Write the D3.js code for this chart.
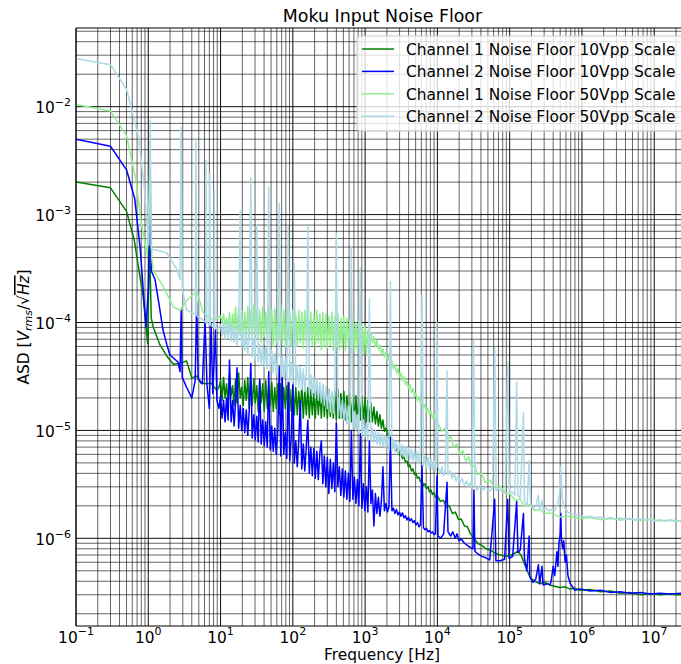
<!DOCTYPE html>
<html>
<head>
<meta charset="utf-8">
<script src="https://cdn.jsdelivr.net/npm/d3@7"></script>
<style>
    body { margin: 0; background: #fff; }
    svg { display: block; font-family: "DejaVu Sans", sans-serif; }
</style>
</head>
<body>
<svg width="681" height="664"></svg>
<script>
// values: frequency in Hz, ASD in V/sqrt(Hz)

// shared frequency grid for the noisy 10 Hz - 10 kHz stretch
var fGrid = [
    10, 10.49, 11.0, 11.54, 12.1, 12.7, 13.3, 14.0, 14.7, 15.4,
    16.1, 16.9, 17.8, 18.7, 19.6, 20.6, 21.6, 22.7, 23.8, 24.9,
    26.2, 27.4, 28.8, 30.2, 31.7, 33.2, 34.8, 36.5, 38.3, 40.2,
    42.2, 44.3, 46.4, 48.7, 51.1, 53.6, 56.2, 59.0, 61.9, 64.9,
    68.1, 71.4, 74.9, 78.6, 82.5, 86.5, 90.7, 95.2, 99.8, 104.7,
    109.9, 115.2, 120.9, 126.8, 133, 139.6, 146.4, 153.6, 161.1, 169,
    177.3, 186, 195.1, 204.7, 214.7, 225.2, 236.3, 247.9, 260, 272.7,
    286.1, 300.1, 314.8, 330.3, 346.5, 363.4, 381.2, 400, 419.6, 440.1,
    461.7, 484.3, 508, 532.9, 559, 586.4, 615.2, 645.3, 677, 710.1,
    745, 781.5, 819.8, 860, 902.1, 946.3, 992.7, 1041, 1092, 1146,
    1202, 1261, 1323, 1388, 1456, 1527, 1602, 1680, 1763, 1849,
    1940, 2035, 2135, 2239, 2349, 2464, 2585, 2712, 2845, 2984,
    3130, 3284, 3445, 3614, 3791, 3977, 4172, 4376, 4590, 4815,
    5051, 5299, 5559, 5831, 6117, 6417, 6731, 7061, 7407, 7770,
    8151, 8551, 8970, 9410, 9871
]

// Channel 1, 10Vpp
var ch1_10_low = [
    [0.1, 2.0e-3], [0.3, 1.77e-3], [0.5, 1.07e-3], [0.64, 5.8e-4], [0.73, 3.3e-4], [0.85, 1.73e-4],
    [0.98, 6.4e-5], [1.04, 5.5e-4], [1.1, 1.1e-4], [1.17, 9.1e-5], [1.45, 6.2e-5], [1.8, 4.9e-5],
    [2.22, 4.1e-5], [2.75, 4.2e-5], [3.4, 4.4e-5], [4.0, 3.05e-5], [4.67, 3.2e-5], [5.35, 2.75e-5],
    [6.4, 2.7e-5], [7.4, 2.75e-5], [8.85, 2.35e-5], [9.5, 2.5e-5]
]
var ch1_10_grid = [
    2.9e-5, 1.9e-5, 3.1e-5, 2.0e-5, 2.7e-5, 1.8e-5, 3.3e-5, 2.1e-5, 2.6e-5, 1.7e-5,
    3.0e-5, 1.8e-5, 3.4e-5, 2.0e-5, 2.5e-5, 1.7e-5, 2.9e-5, 1.9e-5, 3.1e-5, 1.6e-5,
    2.8e-5, 1.7e-5, 3.0e-5, 1.8e-5, 2.6e-5, 1.5e-5, 2.9e-5, 1.8e-5, 2.7e-5, 1.5e-5,
    2.9e-5, 1.6e-5, 2.6e-5, 1.7e-5, 2.8e-5, 1.5e-5, 2.5e-5, 1.6e-5, 2.7e-5, 1.4e-5,
    2.7e-5, 1.5e-5, 2.5e-5, 1.6e-5, 2.6e-5, 1.4e-5, 2.4e-5, 1.5e-5, 2.6e-5, 1.4e-5,
    2.5e-5, 1.4e-5, 2.3e-5, 1.5e-5, 2.6e-5, 1.3e-5, 2.4e-5, 1.4e-5, 2.5e-5, 1.3e-5,
    2.4e-5, 1.4e-5, 2.2e-5, 1.3e-5, 2.5e-5, 1.4e-5, 2.3e-5, 1.3e-5, 2.6e-5, 1.35e-5,
    2.3e-5, 1.3e-5, 2.4e-5, 1.35e-5, 2.2e-5, 1.3e-5, 2.3e-5, 1.25e-5, 2.4e-5, 1.3e-5,
    2.2e-5, 1.3e-5, 2.3e-5, 1.25e-5, 2.1e-5, 1.3e-5, 2.2e-5, 1.2e-5, 2.1e-5, 1.25e-5,
    2.1e-5, 1.2e-5, 2.0e-5, 1.25e-5, 2.1e-5, 1.2e-5, 1.95e-5, 1.2e-5, 1.9e-5, 1.2e-5,
    1.8e-5, 1.2e-5, 1.65e-5, 1.15e-5, 1.5e-5, 1.1e-5, 1.4e-5, 1.05e-5, 1.25e-5, 9.8e-6,
    1.05e-5, 9.2e-6, 9.4e-6, 8.2e-6, 8.2e-6, 7.2e-6, 7.3e-6, 6.5e-6, 6.6e-6, 5.9e-6,
    6.1e-6, 5.5e-6, 5.7e-6, 5.1e-6, 5.2e-6, 4.6e-6, 4.8e-6, 4.2e-6, 4.4e-6, 3.9e-6,
    4.0e-6, 3.6e-6, 3.7e-6, 3.35e-6, 3.4e-6, 3.1e-6, 3.2e-6, 2.9e-6, 3.0e-6, 2.7e-6,
    2.8e-6, 2.55e-6, 2.65e-6, 2.4e-6, 2.5e-6
]
var ch1_10_high = [
    [1.1e4, 2.2e-6], [1.21e4, 2.25e-6], [1.33e4, 1.95e-6], [1.46e4, 2.0e-6], [1.61e4, 1.7e-6],
    [1.77e4, 1.75e-6], [1.95e4, 1.5e-6], [2.15e4, 1.5e-6], [2.37e4, 1.3e-6], [2.6e4, 1.28e-6],
    [2.87e4, 1.1e-6], [3.2e4, 1.0e-6], [3.6e4, 9.0e-7], [4.1e4, 8.6e-7], [4.7e4, 8.0e-7],
    [5.3e4, 7.8e-7], [6.3e4, 7.3e-7], [7.4e4, 7.0e-7], [8.7e4, 6.8e-7], [1.0e5, 6.9e-7],
    [1.15e5, 7.2e-7], [1.3e5, 7.6e-7], [1.43e5, 7.0e-7], [1.6e5, 5.8e-7], [1.75e5, 5.0e-7],
    [1.9e5, 4.4e-7], [2.2e5, 4.0e-7], [2.6e5, 3.8e-7], [3.1e5, 3.9e-7], [3.6e5, 3.7e-7],
    [4.2e5, 3.6e-7], [4.9e5, 3.5e-7], [5.8e5, 3.55e-7], [6.8e5, 3.4e-7], [8.0e5, 3.45e-7],
    [9.4e5, 3.3e-7], [1.3e6, 3.35e-7], [1.8e6, 3.2e-7], [2.5e6, 3.25e-7], [3.4e6, 3.1e-7],
    [4.6e6, 3.15e-7], [6.5e6, 3.0e-7], [8.8e6, 3.08e-7], [1.2e7, 3.0e-7], [1.65e7, 3.05e-7],
    [2.35e7, 2.98e-7]
]

// Channel 2, 10Vpp
var ch2_10_low = [
    [0.1, 5.0e-3], [0.3, 4.3e-3], [0.5, 2.6e-3], [0.65, 1.4e-3], [0.77, 5.0e-4], [0.93, 9.1e-5],
    [1.0, 2.0e-4], [1.06, 1.58e-3], [1.1, 3.0e-4], [1.24, 2.5e-4], [1.45, 1.3e-4], [1.6, 8.5e-5],
    [1.81, 6.2e-5], [1.99, 5.0e-5], [2.58, 4.3e-5], [2.75, 3.5e-5], [2.85, 1.3e-4], [2.95, 3.1e-5],
    [3.4, 2.5e-5], [4.0, 2.0e-5], [4.45, 2.9e-5], [4.67, 1.52e-4], [4.9, 3.0e-5], [5.6, 2.7e-5],
    [6.1, 1.05e-4], [6.5, 2.6e-5], [7.0, 1.6e-5], [7.4, 1.0e-4], [7.8, 2.2e-5], [8.5, 8.5e-5],
    [8.9, 1.9e-5], [9.5, 1.6e-5]
]
var ch2_10_grid = [
    2.1e-5, 1.3e-5, 1.9e-5, 1.2e-5, 2.0e-5, 1.25e-5, 4.5e-5, 1.2e-5, 1.9e-5, 1.1e-5,
    1.8e-5, 3.8e-5, 1.05e-5, 1.7e-5, 1.0e-5, 1.6e-5, 9.5e-6, 1.55e-5, 9.0e-6, 1.5e-5,
    4.2e-5, 8.5e-6, 1.4e-5, 8.2e-6, 1.35e-5, 7.8e-6, 3.0e-5, 7.5e-6, 1.25e-5, 7.2e-6,
    1.2e-5, 7.0e-6, 3.5e-5, 6.6e-6, 1.1e-5, 6.4e-6, 1.05e-5, 6.0e-6, 1.0e-5, 3.9e-5,
    5.8e-6, 3.1e-5, 6.0e-6, 9.5e-6, 5.5e-6, 2.8e-5, 5.2e-6, 8.8e-6, 2.8e-5, 5.0e-6,
    8.0e-6, 4.6e-6, 8.2e-6, 1.87e-5, 4.4e-6, 7.5e-6, 4.2e-6, 7.2e-6, 1.24e-5, 4.0e-6,
    7.0e-6, 3.8e-6, 6.8e-6, 3.6e-6, 6.4e-6, 3.5e-6, 6.2e-6, 8.0e-6, 3.2e-6, 5.8e-6,
    3.0e-6, 5.6e-6, 2.6e-6, 5.4e-6, 2.9e-6, 5.0e-6, 2.7e-6, 1.17e-5, 3.0e-6, 4.6e-6,
    2.5e-6, 4.4e-6, 2.4e-6, 4.2e-6, 2.3e-6, 4.0e-6, 2.2e-6, 1.0e-5, 2.3e-6, 3.7e-6,
    2.1e-6, 3.5e-6, 2.0e-6, 9.3e-6, 1.9e-6, 3.2e-6, 1.8e-6, 3.0e-6, 1.75e-6, 8.0e-6,
    2.1e-6, 2.8e-6, 1.3e-6, 2.6e-6, 1.7e-6, 2.4e-6, 1.6e-6, 2.2e-6, 4.6e-6, 1.8e-6,
    2.1e-6, 1.75e-6, 1.95e-6, 8.6e-6, 1.8e-6, 1.9e-6, 1.7e-6, 1.85e-6, 1.65e-6, 1.75e-6,
    1.6e-6, 1.72e-6, 1.55e-6, 1.62e-6, 1.48e-6, 1.56e-6, 1.45e-6, 1.52e-6, 1.4e-6, 1.46e-6,
    1.33e-6, 1.4e-6, 1.28e-6, 1.33e-6, 4.7e-6, 1.25e-6, 1.2e-6, 1.24e-6, 1.15e-6, 1.18e-6,
    1.12e-6, 1.15e-6, 1.08e-6, 1.1e-6, 3.8e-6
]
var ch2_10_high = [
    [1.02e4, 1.05e-6], [1.11e4, 1.0e-6], [1.22e4, 1.1e-6], [1.36e4, 3.3e-6], [1.4e4, 1.15e-6],
    [1.53e4, 1.05e-6], [1.63e4, 1.15e-6], [1.77e4, 1.0e-6], [1.87e4, 1.1e-6], [1.99e4, 9.5e-7],
    [2.15e4, 9.8e-7], [2.37e4, 9.0e-7], [2.6e4, 8.6e-7], [2.87e4, 8.2e-7], [3.1e4, 8.0e-7],
    [3.2e4, 2.8e-6], [3.3e4, 7.6e-7], [3.6e4, 7.2e-7], [4.1e4, 6.8e-7], [4.7e4, 6.6e-7],
    [5.3e4, 6.3e-7], [6.2e4, 2.3e-6], [6.45e4, 6.2e-7], [7.4e4, 6.2e-7], [8.5e4, 6.4e-7],
    [9.4e4, 2.3e-6], [9.8e4, 6.5e-7], [1.1e5, 6.8e-7], [1.25e5, 2.2e-6], [1.3e5, 7.4e-7],
    [1.4e5, 7.8e-7], [1.55e5, 1.7e-6], [1.6e5, 6.5e-7], [1.73e5, 5.0e-7], [1.86e5, 1.05e-6],
    [1.9e5, 4.4e-7], [2.1e5, 3.9e-7], [2.3e5, 4.2e-7], [2.5e5, 5.7e-7], [2.6e5, 3.8e-7],
    [2.8e5, 5.5e-7], [2.9e5, 3.7e-7], [3.3e5, 3.8e-7], [3.6e5, 3.7e-7], [3.75e5, 4.0e-7],
    [4.0e5, 5.5e-7], [4.2e5, 4.5e-7], [4.5e5, 7.5e-7], [4.65e5, 5.5e-7], [4.8e5, 9.0e-7],
    [5.0e5, 1.1e-6], [5.1e5, 1.7e-6], [5.2e5, 1.0e-6], [5.4e5, 8.0e-7], [5.6e5, 9.5e-7],
    [5.85e5, 6.0e-7], [6.1e5, 7.0e-7], [6.4e5, 4.5e-7], [6.9e5, 3.8e-7], [8.0e5, 3.3e-7],
    [9.4e5, 3.4e-7], [1.3e6, 3.25e-7], [1.8e6, 3.3e-7], [2.5e6, 3.15e-7], [3.4e6, 3.2e-7],
    [4.6e6, 3.1e-7], [6.5e6, 3.15e-7], [8.8e6, 3.05e-7], [1.2e7, 3.1e-7], [1.65e7, 3.05e-7],
    [2.35e7, 3.1e-7]
]

// Channel 1, 50Vpp
var ch1_50_low = [
    [0.1, 1.05e-2], [0.3, 9.1e-3], [0.5, 5.4e-3], [0.675, 2.1e-3], [0.79, 8.9e-4], [0.88, 5.8e-4],
    [0.97, 4.2e-4], [1.06, 3.1e-3], [1.12, 3.9e-4], [1.17, 3.07e-4], [1.61, 2.15e-4], [2.22, 1.4e-4],
    [2.75, 1.3e-4], [3.4, 1.6e-4], [4.67, 1.95e-4], [5.77, 1.23e-4], [7.93, 1.05e-4], [9.0, 1.1e-4]
]
var ch1_50_grid = [
    1.15e-4, 1.0e-4, 1.2e-4, 9.5e-5, 1.1e-4, 9.0e-5, 1.25e-4, 8.5e-5, 1.2e-4, 8.8e-5,
    1.4e-4, 8.5e-5, 1.35e-4, 7.5e-5, 1.3e-4, 7.0e-5, 1.25e-4, 7.5e-5, 1.4e-4, 7.0e-5,
    1.3e-4, 7.5e-5, 1.45e-4, 6.5e-5, 1.35e-4, 7.0e-5, 1.3e-4, 6.5e-5, 1.4e-4, 7.5e-5,
    1.25e-4, 6.5e-5, 1.4e-4, 7.0e-5, 1.3e-4, 6.0e-5, 1.35e-4, 6.5e-5, 1.25e-4, 7.0e-5,
    1.45e-4, 6.5e-5, 1.3e-4, 6.0e-5, 1.35e-4, 7.0e-5, 1.25e-4, 6.0e-5, 1.3e-4, 6.5e-5,
    1.2e-4, 6.0e-5, 1.3e-4, 6.5e-5, 1.25e-4, 5.8e-5, 1.3e-4, 6.5e-5, 1.2e-4, 6.0e-5,
    1.25e-4, 6.2e-5, 1.2e-4, 5.8e-5, 1.3e-4, 6.5e-5, 1.2e-4, 5.6e-5, 1.25e-4, 6.0e-5,
    1.2e-4, 5.8e-5, 1.15e-4, 6.2e-5, 1.25e-4, 5.5e-5, 1.15e-4, 6.0e-5, 1.2e-4, 5.6e-5,
    1.1e-4, 5.8e-5, 1.15e-4, 5.5e-5, 1.1e-4, 6.0e-5, 1.05e-4, 5.3e-5, 1.1e-4, 5.5e-5,
    1.0e-4, 5.5e-5, 1.05e-4, 5.0e-5, 9.5e-5, 5.3e-5, 9.5e-5, 5.0e-5, 8.5e-5, 5.0e-5,
    8.0e-5, 6.5e-5, 7.4e-5, 6.0e-5, 6.8e-5, 5.6e-5, 6.2e-5, 5.2e-5, 5.7e-5, 4.8e-5,
    5.3e-5, 4.4e-5, 4.9e-5, 4.0e-5, 4.4e-5, 3.7e-5, 4.1e-5, 3.4e-5, 3.8e-5, 3.1e-5,
    3.4e-5, 2.9e-5, 3.15e-5, 2.65e-5, 2.85e-5, 2.45e-5, 2.65e-5, 2.25e-5, 2.45e-5, 2.05e-5,
    2.2e-5, 1.9e-5, 2.05e-5, 1.75e-5, 1.9e-5, 1.6e-5, 1.75e-5, 1.5e-5, 1.6e-5, 1.4e-5,
    1.5e-5, 1.3e-5, 1.4e-5, 1.2e-5, 1.25e-5
]
var ch1_50_high = [
    [1.04e4, 1.12e-5], [1.15e4, 9.8e-6], [1.26e4, 1.04e-5], [1.39e4, 8.3e-6], [1.53e4, 8.8e-6],
    [1.68e4, 7.0e-6], [1.85e4, 7.5e-6], [2.03e4, 6.0e-6], [2.24e4, 6.5e-6], [2.46e4, 5.2e-6],
    [2.71e4, 5.7e-6], [2.98e4, 4.5e-6], [3.28e4, 4.8e-6], [3.6e4, 3.9e-6], [4.1e4, 4.0e-6],
    [4.6e4, 3.3e-6], [5.3e4, 3.45e-6], [6.3e4, 2.95e-6], [7.4e4, 3.05e-6], [8.7e4, 2.6e-6],
    [1.0e5, 2.6e-6], [1.2e5, 2.25e-6], [1.4e5, 2.3e-6], [1.6e5, 2.0e-6], [1.9e5, 2.05e-6],
    [2.2e5, 1.82e-6], [2.6e5, 1.85e-6], [3.0e5, 1.7e-6], [3.6e5, 1.72e-6], [4.9e5, 1.58e-6],
    [6.8e5, 1.6e-6], [9.4e5, 1.52e-6], [1.3e6, 1.56e-6], [1.8e6, 1.49e-6], [2.5e6, 1.53e-6],
    [3.4e6, 1.48e-6], [4.6e6, 1.51e-6], [6.5e6, 1.46e-6], [8.8e6, 1.5e-6], [1.2e7, 1.45e-6],
    [1.65e7, 1.48e-6], [2.35e7, 1.44e-6]
]

// Channel 2, 50Vpp
var ch2_50_low = [
    [0.1, 2.8e-2], [0.3, 2.45e-2], [0.5, 1.45e-2], [0.73, 5.3e-3], [0.88, 1.8e-3], [0.95, 9.0e-4],
    [1.02, 5.2e-4], [1.06, 7.5e-3], [1.1, 4.8e-4], [1.45, 4.6e-4], [1.8, 4.4e-4], [2.47, 3.15e-4],
    [2.75, 2.5e-4], [2.85, 6.4e-3], [2.95, 2.0e-4], [3.4, 1.3e-4], [4.2, 1.22e-4], [4.5, 1.18e-4],
    [4.57, 5.0e-3], [4.7, 1.15e-4], [5.77, 1.05e-4], [6.2, 1.0e-4], [6.3, 3.2e-3], [6.45, 1.0e-4],
    [7.0, 9.6e-5], [7.1, 2.4e-3], [7.25, 9.5e-5], [8.1, 9.0e-5], [8.2, 1.67e-3], [8.35, 9.0e-5],
    [9.2, 8.8e-5]
]
var ch2_50_grid = [
    9.5e-5, 7.5e-5, 1.0e-4, 7.0e-5, 9.8e-5, 7.2e-5, 1.02e-4, 6.8e-5, 9.5e-5, 6.5e-5,
    9.2e-5, 6.2e-5, 9.0e-5, 1.1e-3, 5.8e-5, 8.5e-5, 5.5e-5, 8.0e-5, 5.0e-5, 7.5e-5,
    2.2e-3, 4.8e-5, 7.0e-5, 4.5e-5, 8.0e-4, 4.3e-5, 6.3e-5, 4.0e-5, 6.0e-5, 3.9e-5,
    5.8e-5, 3.7e-5, 1.8e-3, 3.6e-5, 5.5e-5, 3.4e-5, 5.2e-5, 3.3e-5, 5.0e-5, 1.27e-3,
    3.1e-5, 4.8e-5, 3.0e-5, 4.6e-5, 2.9e-5, 7.7e-4, 2.8e-5, 4.3e-5, 2.7e-5, 3.55e-4,
    2.6e-5, 4.0e-5, 2.5e-5, 3.9e-5, 2.4e-5, 3.7e-5, 2.3e-5, 3.5e-5, 7.7e-4, 2.2e-5,
    3.3e-5, 2.1e-5, 3.2e-5, 2.0e-5, 3.0e-5, 1.9e-5, 2.8e-5, 1.8e-5, 2.7e-5, 1.7e-5,
    2.55e-5, 1.6e-5, 2.4e-5, 1.5e-5, 2.3e-5, 1.45e-5, 2.2e-5, 6.7e-4, 1.35e-5, 2.0e-5,
    1.3e-5, 1.9e-5, 1.25e-5, 1.8e-5, 1.15e-5, 1.7e-5, 1.1e-5, 5.1e-4, 1.05e-5, 1.5e-5,
    9.8e-6, 1.4e-5, 9.4e-6, 3.2e-4, 9.0e-6, 1.25e-5, 8.5e-6, 1.15e-5, 8.2e-6, 1.64e-4,
    8.0e-6, 1.05e-5, 7.8e-6, 1.0e-5, 7.5e-6, 9.6e-6, 7.3e-6, 9.3e-6, 7.1e-6, 9.0e-6,
    6.9e-6, 8.7e-6, 6.7e-6, 2.4e-4, 6.5e-6, 8.2e-6, 6.3e-6, 7.9e-6, 6.1e-6, 7.6e-6,
    5.9e-6, 7.3e-6, 5.7e-6, 7.1e-6, 5.5e-6, 6.9e-6, 5.4e-6, 6.7e-6, 5.2e-6, 6.5e-6,
    5.1e-6, 6.3e-6, 4.9e-6, 6.1e-6, 1.8e-4, 4.7e-6, 5.8e-6, 4.6e-6, 5.6e-6, 4.4e-6,
    5.4e-6, 4.3e-6, 5.2e-6, 4.2e-6, 1.0e-4
]
var ch2_50_high = [
    [1.02e4, 4.6e-6], [1.1e4, 4.0e-6], [1.15e4, 4.6e-6], [1.22e4, 3.8e-6], [1.29e4, 4.3e-6],
    [1.36e4, 3.6e-5], [1.4e4, 3.9e-6], [1.5e4, 4.2e-6], [1.6e4, 3.6e-6], [1.7e4, 4.0e-6],
    [1.82e4, 3.4e-6], [1.94e4, 3.8e-6], [2.07e4, 3.3e-6], [2.2e4, 3.6e-6], [2.36e4, 3.1e-6],
    [2.52e4, 3.4e-6], [2.68e4, 3.0e-6], [2.86e4, 3.3e-6], [3.0e4, 2.9e-6], [3.17e4, 6.8e-5],
    [3.3e4, 3.1e-6], [3.5e4, 2.8e-6], [3.9e4, 3.1e-6], [4.3e4, 2.8e-6], [4.7e4, 3.0e-6],
    [5.2e4, 2.75e-6], [5.8e4, 2.9e-6], [6.2e4, 5.9e-5], [6.5e4, 2.75e-6], [7.2e4, 2.9e-6],
    [7.9e4, 2.65e-6], [8.7e4, 2.8e-6], [9.4e4, 4.3e-5], [9.9e4, 2.6e-6], [1.08e5, 2.7e-6],
    [1.18e5, 2.5e-6], [1.25e5, 2.8e-5], [1.3e5, 2.5e-6], [1.4e5, 2.35e-6], [1.55e5, 1.46e-5],
    [1.6e5, 2.2e-6], [1.74e5, 2.0e-6], [1.86e5, 5.3e-6], [1.95e5, 2.05e-6], [2.1e5, 1.9e-6],
    [2.3e5, 2.0e-6], [2.5e5, 2.5e-6], [2.6e5, 1.85e-6], [2.8e5, 2.25e-6], [2.9e5, 1.85e-6],
    [3.2e5, 1.9e-6], [3.5e5, 1.8e-6], [3.7e5, 1.85e-6], [4.2e5, 1.8e-6], [4.6e5, 2.1e-6],
    [4.9e5, 2.6e-6], [5.1e5, 4.6e-6], [5.3e5, 2.4e-6], [5.7e5, 1.95e-6], [6.4e5, 1.75e-6],
    [6.9e5, 1.7e-6], [8.0e5, 1.65e-6], [9.4e5, 1.62e-6], [1.1e6, 1.58e-6], [1.3e6, 1.6e-6],
    [1.5e6, 1.55e-6], [1.8e6, 1.57e-6], [2.1e6, 1.52e-6], [2.5e6, 1.56e-6], [2.9e6, 1.5e-6],
    [3.4e6, 1.54e-6], [4.0e6, 1.5e-6], [4.6e6, 1.53e-6], [5.4e6, 1.48e-6], [6.5e6, 1.52e-6],
    [7.6e6, 1.47e-6], [8.8e6, 1.5e-6], [1.03e7, 1.45e-6], [1.2e7, 1.49e-6], [1.4e7, 1.44e-6],
    [1.65e7, 1.47e-6], [1.9e7, 1.43e-6], [2.35e7, 1.46e-6]
]

var seriesNames = [
    'Channel 1 Noise Floor 10Vpp Scale',
    'Channel 2 Noise Floor 10Vpp Scale',
    'Channel 1 Noise Floor 50Vpp Scale',
    'Channel 2 Noise Floor 50Vpp Scale'
]
var seriesColors = ['#008000', '#0000ff', '#90ee90', '#add8e6']

var xMajor = [0.1, 1, 10, 100, 1e3, 1e4, 1e5, 1e6, 1e7]
var xExp = ['\u22121', '0', '1', '2', '3', '4', '5', '6', '7']
var yMajor = [1e-6, 1e-5, 1e-4, 1e-3, 1e-2]
var yExp = ['\u22126', '\u22125', '\u22124', '\u22123', '\u22122']

function join(low, grid, high) {
    return low.concat(d3.zip(fGrid, grid), high)
}

var seriesData = [
    join(ch1_10_low, ch1_10_grid, ch1_10_high),
    join(ch2_10_low, ch2_10_grid, ch2_10_high),
    join(ch1_50_low, ch1_50_grid, ch1_50_high),
    join(ch2_50_low, ch2_50_grid, ch2_50_high)
]

var svg = d3.select('svg')

var pL = 76, pR = 683, pT = 28, pB = 626

var x = d3.scaleLog()
    .domain([0.1, 2.5e7])
    .range([pL, pR])
var y = d3.scaleLog()
    .domain([1.54e-7, 0.0536])
    .range([pB, pT])

svg.append('clipPath')
    .attr('id', 'plot')
    .append('rect')
    .attr('x', pL)
    .attr('y', pT)
    .attr('width', pR - pL)
    .attr('height', pB - pT)

// grid, majors a bit heavier than minors
var isMajor = v => Math.abs(Math.log10(v) - Math.round(Math.log10(v))) < 1e-6
var xt = x.ticks(), yt = y.ticks()

var grid = svg.append('g')
grid.selectAll('.xg')
    .data(xt)
    .enter()
    .append('line')
    .attr('x1', d => x(d))
    .attr('x2', d => x(d))
    .attr('y1', pT)
    .attr('y2', pB)
    .style('stroke', '#000')
    .style('stroke-width', d => isMajor(d) ? 1 : 0.8)
    .style('stroke-opacity', d => isMajor(d) ? 0.95 : 0.75)
grid.selectAll('.yg')
    .data(yt)
    .enter()
    .append('line')
    .attr('y1', d => y(d))
    .attr('y2', d => y(d))
    .attr('x1', pL)
    .attr('x2', pR)
    .style('stroke', '#000')
    .style('stroke-width', d => isMajor(d) ? 1 : 0.8)
    .style('stroke-opacity', d => isMajor(d) ? 0.95 : 0.75)

var line = d3.line()
    .x(d => x(d[0]))
    .y(d => y(d[1]))

svg.append('g')
    .attr('clip-path', 'url(#plot)')
    .selectAll('path')
    .data(seriesData)
    .enter()
    .append('path')
    .attr('d', d => line(d))
    .style('fill', 'none')
    .style('stroke', (d, i) => seriesColors[i])
    .style('stroke-width', 1.5)
    .style('stroke-linejoin', 'round')

// spines
svg.append('path')
    .attr('d', 'M' + pR + ',' + pT + 'H' + pL + 'V' + pB + 'H' + pR)
    .style('fill', 'none')
    .style('stroke', '#000')
    .style('stroke-width', 1)

// tick labels
var xl = svg.selectAll('.xl')
    .data(xMajor)
    .enter()
    .append('text')
    .attr('x', d => x(d))
    .attr('y', 642.5)
    .attr('text-anchor', 'middle')
    .style('font-size', '15.4px')
xl.append('tspan').text('10')
xl.append('tspan')
    .attr('dy', -7.5)
    .style('font-size', '11px')
    .text((d, i) => xExp[i])

var yl = svg.selectAll('.yl')
    .data(yMajor)
    .enter()
    .append('text')
    .attr('x', 71)
    .attr('y', d => y(d) + 6.6)
    .attr('text-anchor', 'end')
    .style('font-size', '15.4px')
yl.append('tspan').text('10')
yl.append('tspan')
    .attr('dy', -7.3)
    .style('font-size', '11px')
    .text((d, i) => yExp[i])

// title and axis labels
svg.append('text')
    .attr('x', 382.5)
    .attr('y', 22)
    .attr('text-anchor', 'middle')
    .style('font-size', '17.4px')
    .text('Moku Input Noise Floor')

svg.append('text')
    .attr('x', 382)
    .attr('y', 660)
    .attr('text-anchor', 'middle')
    .style('font-size', '15.4px')
    .text('Frequency [Hz]')

var yLab = svg.append('text')
    .attr('transform', 'translate(29,327) rotate(-90)')
    .attr('text-anchor', 'middle')
    .style('font-size', '15.4px')
yLab.append('tspan').text('ASD [')
yLab.append('tspan').style('font-style', 'italic').text('V')
yLab.append('tspan')
    .attr('dy', 3)
    .style('font-style', 'italic')
    .style('font-size', '11px')
    .text('rms')
yLab.append('tspan').attr('dy', -3).text('/\u221a')
yLab.append('tspan')
    .style('font-style', 'italic')
    .style('text-decoration', 'overline')
    .text('Hz')
yLab.append('tspan').text(']')

// legend
var lg = svg.append('g')
lg.append('rect')
    .attr('x', 357)
    .attr('y', 36)
    .attr('width', 340)
    .attr('height', 95)
    .attr('rx', 3)
    .style('fill', '#fff')
    .style('fill-opacity', 0.8)
    .style('stroke', '#cccccc')
    .style('stroke-width', 1)

var rows = lg.selectAll('.row')
    .data(seriesNames)
    .enter()
    .append('g')
    .attr('transform', (d, i) => 'translate(0,' + (49 + i * 22.4) + ')')
rows.append('line')
    .attr('x1', 362)
    .attr('x2', 394)
    .style('stroke', (d, i) => seriesColors[i])
    .style('stroke-width', 1.5)
rows.append('text')
    .attr('x', 406)
    .attr('y', 6)
    .style('font-size', '15.4px')
    .text(d => d)
</script>
</body>
</html>
